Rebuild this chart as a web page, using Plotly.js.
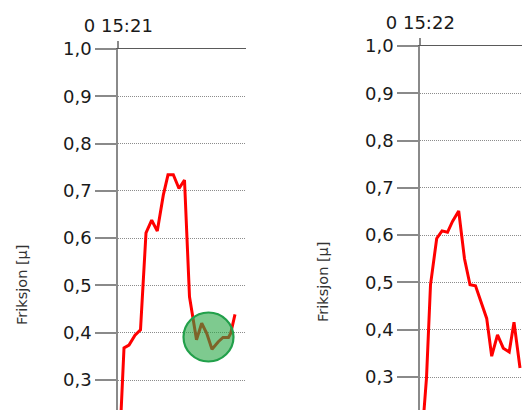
<!DOCTYPE html>
<html><head><meta charset="utf-8">
<script src="https://cdn.plot.ly/plotly-3.0.1.min.js"></script>
<style>html,body{margin:0;padding:0;background:#fff;overflow:hidden}#chart{width:522px;height:410px}</style>
</head><body><div id="chart"></div>
<script>
// Panel start labels (time of the first sample)
const panelLabels = ['0 15:21', '0 15:22'];
const axisTitle = 'Friksjon [µ]';
const yTicks = [0.3, 0.4, 0.5, 0.6, 0.7, 0.8, 0.9, 1.0];

// Left panel: seconds after start, friction coefficient
const leftSeconds  = [0.6, 2.85, 5.35, 8.35, 11.1, 13.85, 16.7, 19.5, 22.5, 24.85, 27.5, 30.35, 33.1, 35.6, 39.1, 41.7, 44.2, 46.85, 50.0, 52.35, 55.1, 56.2, 58.35];
const leftFriction = [0.16, 0.368, 0.374, 0.395, 0.406, 0.611, 0.638, 0.615, 0.691, 0.734, 0.734, 0.705, 0.723, 0.476, 0.385, 0.420, 0.399, 0.365, 0.381, 0.390, 0.390, 0.399, 0.439];

// Right panel
const rightSeconds  = [0.6, 3.1, 5.1, 8.2, 10.85, 13.6, 16.1, 19.2, 22.1, 24.85, 27.6, 33.2, 35.7, 38.6, 41.5, 44.45, 46.85, 49.85];
const rightFriction = [0.16, 0.298, 0.495, 0.593, 0.609, 0.606, 0.629, 0.651, 0.550, 0.495, 0.493, 0.424, 0.344, 0.389, 0.361, 0.353, 0.416, 0.319];

// Highlighted region in left panel
const highlightSecond = 45.1;
const highlightFriction = 0.391;

const W = 522, H = 410;
const font = 'DejaVu Sans, Verdana, sans-serif';

const lineStyle = {color: '#ff0000', width: 3};
const traces = [
  {x: leftSeconds, y: leftFriction, type: 'scatter', mode: 'lines', line: lineStyle, xaxis: 'x', yaxis: 'y', hoverinfo: 'skip'},
  {x: rightSeconds, y: rightFriction, type: 'scatter', mode: 'lines', line: lineStyle, xaxis: 'x2', yaxis: 'y2', hoverinfo: 'skip'}
];

function xAx(label, domain, range) {
  return {
    domain: domain, range: range, side: 'top',
    showline: true, linecolor: '#5a5a5a', linewidth: 1.5,
    showgrid: false, zeroline: false,
    tickmode: 'array', tickvals: [0], ticktext: [label],
    ticks: 'outside', ticklen: 7, tickwidth: 2, tickcolor: '#8a8a8a',
    tickfont: {family: font, size: 18, color: '#1a1a1a'},
    ticklabelstandoff: 1
  };
}
function yAx(domain, range, anchor) {
  return {
    domain: domain, range: range, anchor: anchor,
    showline: true, linecolor: '#8a8a8a', linewidth: 2,
    showgrid: true, gridcolor: '#8c8c8c', gridwidth: 1, griddash: '1px,1px',
    zeroline: false,
    tickmode: 'array', tickvals: yTicks, tickformat: '.1f',
    ticks: 'outside', ticklen: 21, tickwidth: 2, tickcolor: '#8a8a8a',
    tickfont: {family: font, size: 18, color: '#1a1a1a'},
    ticklabelstandoff: 0
  };
}

const scale = 472.9; // px per unit friction
const leftTop = 49, rightTop = 46;
const layout = {
  width: W, height: H,
  margin: {l: 0, r: 0, t: 0, b: 0, pad: 0},
  paper_bgcolor: '#fff', plot_bgcolor: 'rgba(0,0,0,0)',
  separators: ', ',
  showlegend: false,
  xaxis: xAx(panelLabels[0], [118.3 / W, 246 / W], [0, 63.85]),
  yaxis: yAx([0, 1 - leftTop / H], [1 - (H - leftTop) / scale, 1.0], 'x'),
  xaxis2: Object.assign(xAx(panelLabels[1], [420.3 / W, 1], [0, 50.85]), {anchor: 'y2'}),
  yaxis2: yAx([0, 1 - rightTop / H], [1 - (H - rightTop) / scale, 1.0], 'x2'),
  shapes: [{
    type: 'circle', xref: 'x', yref: 'y', xsizemode: 'pixel', ysizemode: 'pixel',
    xanchor: highlightSecond, yanchor: highlightFriction,
    x0: -25, x1: 25, y0: -24.5, y1: 24.5,
    fillcolor: 'rgba(40,167,69,0.6)', line: {color: '#22a04b', width: 2.2}, layer: 'above'
  }],
  annotations: [
    {text: axisTitle, xref: 'paper', yref: 'paper', x: 22 / W, y: 1 - 285 / H, textangle: -90, showarrow: false,
     font: {family: font, size: 14.5, color: '#333'}, xanchor: 'center', yanchor: 'middle'},
    {text: axisTitle, xref: 'paper', yref: 'paper', x: 323 / W, y: 1 - 282 / H, textangle: -90, showarrow: false,
     font: {family: font, size: 14.5, color: '#333'}, xanchor: 'center', yanchor: 'middle'}
  ]
};
layout.xaxis.anchor = 'y';

Plotly.newPlot('chart', traces, layout, {staticPlot: true, displayModeBar: false});
</script></body></html>
